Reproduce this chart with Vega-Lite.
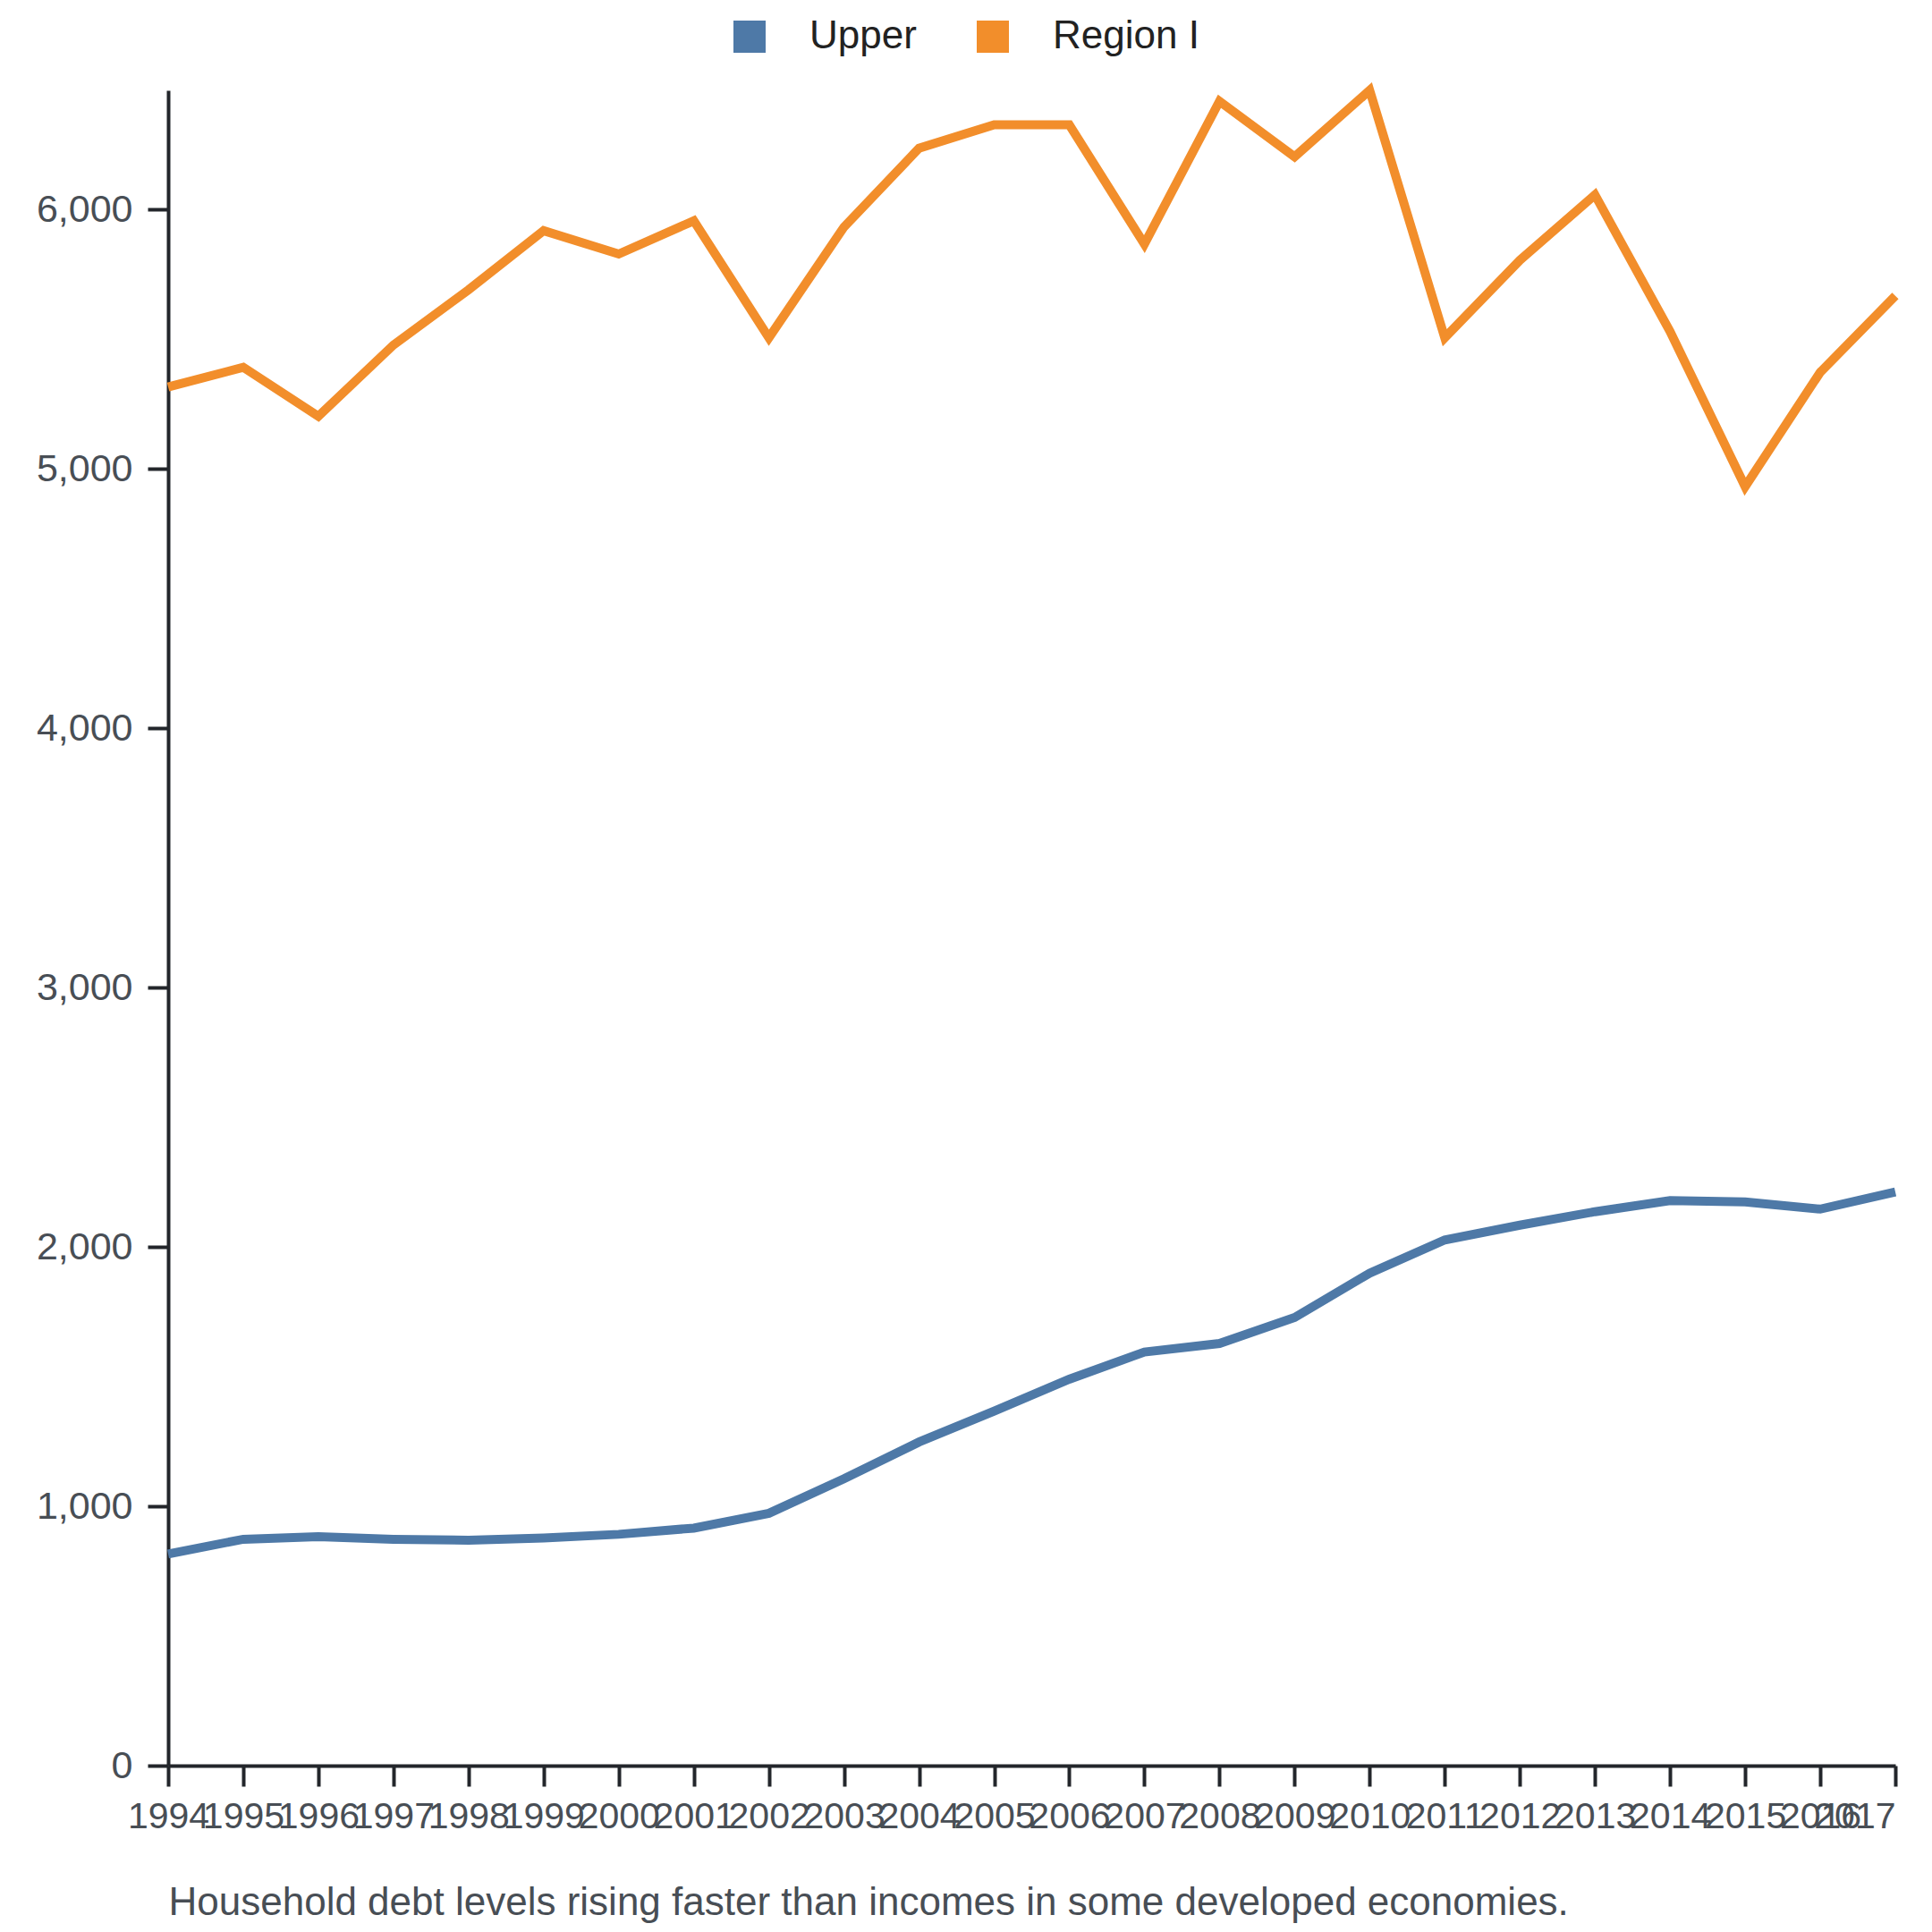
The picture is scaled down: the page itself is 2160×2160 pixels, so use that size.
{
  "$schema": "https://vega.github.io/schema/vega-lite/v6.json",
  "width": 1931,
  "height": 1873,
  "autosize": {"type": "none"},
  "padding": {"left": 188, "top": 101, "right": 41, "bottom": 186},
  "background": "white",
  "config": {
    "view": {"stroke": null},
    "font": "Liberation Sans"
  },
  "data": {
    "values": [
      {"year": 1994, "series": "Upper", "value": 816},
      {"year": 1995, "series": "Upper", "value": 873},
      {"year": 1996, "series": "Upper", "value": 883},
      {"year": 1997, "series": "Upper", "value": 873},
      {"year": 1998, "series": "Upper", "value": 869},
      {"year": 1999, "series": "Upper", "value": 878},
      {"year": 2000, "series": "Upper", "value": 892},
      {"year": 2001, "series": "Upper", "value": 916},
      {"year": 2002, "series": "Upper", "value": 973},
      {"year": 2003, "series": "Upper", "value": 1106},
      {"year": 2004, "series": "Upper", "value": 1248},
      {"year": 2005, "series": "Upper", "value": 1367},
      {"year": 2006, "series": "Upper", "value": 1490},
      {"year": 2007, "series": "Upper", "value": 1595},
      {"year": 2008, "series": "Upper", "value": 1628},
      {"year": 2009, "series": "Upper", "value": 1728},
      {"year": 2010, "series": "Upper", "value": 1899},
      {"year": 2011, "series": "Upper", "value": 2027},
      {"year": 2012, "series": "Upper", "value": 2084},
      {"year": 2013, "series": "Upper", "value": 2136},
      {"year": 2014, "series": "Upper", "value": 2179},
      {"year": 2015, "series": "Upper", "value": 2174},
      {"year": 2016, "series": "Upper", "value": 2146},
      {"year": 2017, "series": "Upper", "value": 2212},
      {"year": 1994, "series": "Region I", "value": 5316},
      {"year": 1995, "series": "Region I", "value": 5392},
      {"year": 1996, "series": "Region I", "value": 5203},
      {"year": 1997, "series": "Region I", "value": 5478},
      {"year": 1998, "series": "Region I", "value": 5691},
      {"year": 1999, "series": "Region I", "value": 5919},
      {"year": 2000, "series": "Region I", "value": 5829},
      {"year": 2001, "series": "Region I", "value": 5957},
      {"year": 2002, "series": "Region I", "value": 5506},
      {"year": 2003, "series": "Region I", "value": 5933},
      {"year": 2004, "series": "Region I", "value": 6237},
      {"year": 2005, "series": "Region I", "value": 6327},
      {"year": 2006, "series": "Region I", "value": 6327},
      {"year": 2007, "series": "Region I", "value": 5867},
      {"year": 2008, "series": "Region I", "value": 6418},
      {"year": 2009, "series": "Region I", "value": 6204},
      {"year": 2010, "series": "Region I", "value": 6460},
      {"year": 2011, "series": "Region I", "value": 5506},
      {"year": 2012, "series": "Region I", "value": 5805},
      {"year": 2013, "series": "Region I", "value": 6057},
      {"year": 2014, "series": "Region I", "value": 5530},
      {"year": 2015, "series": "Region I", "value": 4932},
      {"year": 2016, "series": "Region I", "value": 5373},
      {"year": 2017, "series": "Region I", "value": 5668}
    ]
  },
  "mark": {"type": "line", "strokeWidth": 10, "strokeJoin": "miter"},
  "encoding": {
    "x": {
      "field": "year",
      "type": "quantitative",
      "scale": {"domain": [1994, 2017], "nice": false, "zero": false},
      "axis": {
        "values": [1994,1995,1996,1997,1998,1999,2000,2001,2002,2003,2004,2005,2006,2007,2008,2009,2010,2011,2012,2013,2014,2015,2016,2017],
        "format": "d",
        "grid": false,
        "labelOverlap": false,
        "labelFlush": false,
        "labelAlign": {"condition": {"test": "datum.value == 2017", "value": "right"}, "value": "center"},
        "labelFontSize": 41,
        "labelColor": "#484e55",
        "labelPadding": 14,
        "tickSize": 23,
        "tickWidth": 4,
        "tickColor": "#23262b",
        "domainColor": "#23262b",
        "domainWidth": 4,
        "title": "Household debt levels rising faster than incomes in some developed economies.",
        "titleAnchor": "start",
        "titleAlign": "left",
        "titleFontSize": 44,
        "titleFontWeight": "normal",
        "titleColor": "#484e55",
        "titlePadding": 54
      }
    },
    "y": {
      "field": "value",
      "type": "quantitative",
      "scale": {"domain": [0, 6460], "nice": false},
      "axis": {
        "values": [0, 1000, 2000, 3000, 4000, 5000, 6000],
        "format": ",.0f",
        "grid": false,
        "title": null,
        "labelFontSize": 43,
        "labelColor": "#484e55",
        "labelPadding": 17,
        "tickSize": 23,
        "tickWidth": 4,
        "tickColor": "#23262b",
        "domainColor": "#23262b",
        "domainWidth": 4
      }
    },
    "color": {
      "field": "series",
      "type": "nominal",
      "scale": {"domain": ["Upper", "Region I"], "range": ["#4e79a7", "#f28e2b"]},
      "legend": {
        "title": null,
        "orient": "none",
        "direction": "horizontal",
        "legendX": 628,
        "legendY": -82,
        "padding": 0,
        "symbolType": "square",
        "symbolSize": 324,
        "symbolStrokeWidth": 18,
        "symbolOpacity": 1,
        "labelFontSize": 44,
        "labelLimit": 500,
        "labelColor": "#222222",
        "labelOffset": 45,
        "columnPadding": 40
      }
    }
  }
}
